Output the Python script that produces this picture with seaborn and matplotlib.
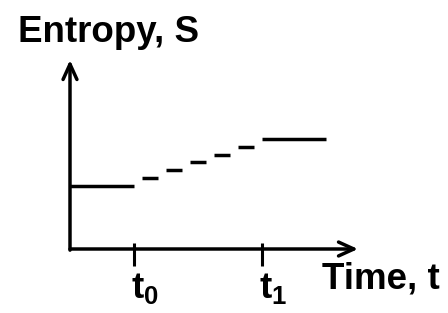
import matplotlib
matplotlib.use("Agg")
import matplotlib.pyplot as plt
import seaborn as sns
import pandas as pd

# ---- data ----
time_low = [0, 1]
entropy_low = [2, 2]
time_high = [3, 4]
entropy_high = [3.5, 3.5]
# short horizontal dashes (staircase) between t0 and t1
dash_start = [1.125, 1.5, 1.875, 2.25, 2.625]
dash_end = [1.375, 1.75, 2.125, 2.5, 2.875]
dash_level = [2.25, 2.5, 2.75, 3.0, 3.25]
tick_pos = [1, 3]
tick_labels = [r"$\mathbf{t}_{\mathbf{0}}$", r"$\mathbf{t}_{\mathbf{1}}$"]
ylabel_text = "Entropy, S"
xlabel_text = "Time, t"

sns.set_theme(style="white")
plt.rcParams["font.family"] = ["Liberation Sans", "DejaVu Sans"]
plt.rcParams["font.weight"] = "bold"
plt.rcParams["mathtext.fontset"] = "custom"
plt.rcParams["mathtext.rm"] = "Liberation Sans"
plt.rcParams["mathtext.bf"] = "Liberation Sans:bold"

W, H = 448, 313
DPI = 100
fig = plt.figure(figsize=(W / DPI, H / DPI), dpi=DPI)
fig.patch.set_facecolor("white")

ox, oy = 70, 249
ax = fig.add_axes([ox / W, (H - oy) / H, 288 / W, 189 / H])
ax.set_xlim(0, 4.5)
ax.set_ylim(0, 6)
ax.set_axis_off()

LW = 2.5
sns.lineplot(x=time_low, y=entropy_low, ax=ax, color="black", linewidth=LW)
sns.lineplot(x=time_high, y=entropy_high, ax=ax, color="black", linewidth=LW)

rows = []
for i, (a, b, lv) in enumerate(zip(dash_start, dash_end, dash_level)):
    rows.append({"t": a, "S": lv, "seg": i})
    rows.append({"t": b, "S": lv, "seg": i})
dash_df = pd.DataFrame(rows)
sns.lineplot(data=dash_df, x="t", y="S", units="seg", estimator=None,
             ax=ax, color="black", linewidth=LW, sort=False)
for l in ax.lines:
    l.set_solid_capstyle("butt")

# axes arrows
arrow = dict(arrowstyle="->,head_length=1.1,head_width=0.5", lw=LW,
             color="black", shrinkA=0, shrinkB=0, mutation_scale=10)
ax.annotate("", xy=(0, 1), xytext=(0, -0.006), xycoords="axes fraction",
            arrowprops=arrow)
ax.annotate("", xy=(1, 0), xytext=(0, 0), xycoords="axes fraction",
            arrowprops=arrow)

# tick marks
ax.vlines(tick_pos, -0.09, 0.032, transform=ax.get_xaxis_transform(),
          color="black", lw=2.2, clip_on=False)

# tick labels
for t, lab in zip(tick_pos, tick_labels):
    ax.annotate(lab, xy=(t, 0), xycoords=("data", "axes fraction"),
                xytext=(-2.2, -36), textcoords="offset points",
                ha="left", va="baseline", fontsize=26.5, color="black")

FS = 26.5
fig.text(18 / W, 1 - 42 / H, ylabel_text, ha="left", va="baseline",
         fontsize=FS, fontweight="bold", color="black")
fig.text(322 / W, 1 - 289 / H, xlabel_text, ha="left", va="baseline",
         fontsize=FS, fontweight="bold", color="black")

fig.savefig("out.png", dpi=DPI, facecolor="white")
